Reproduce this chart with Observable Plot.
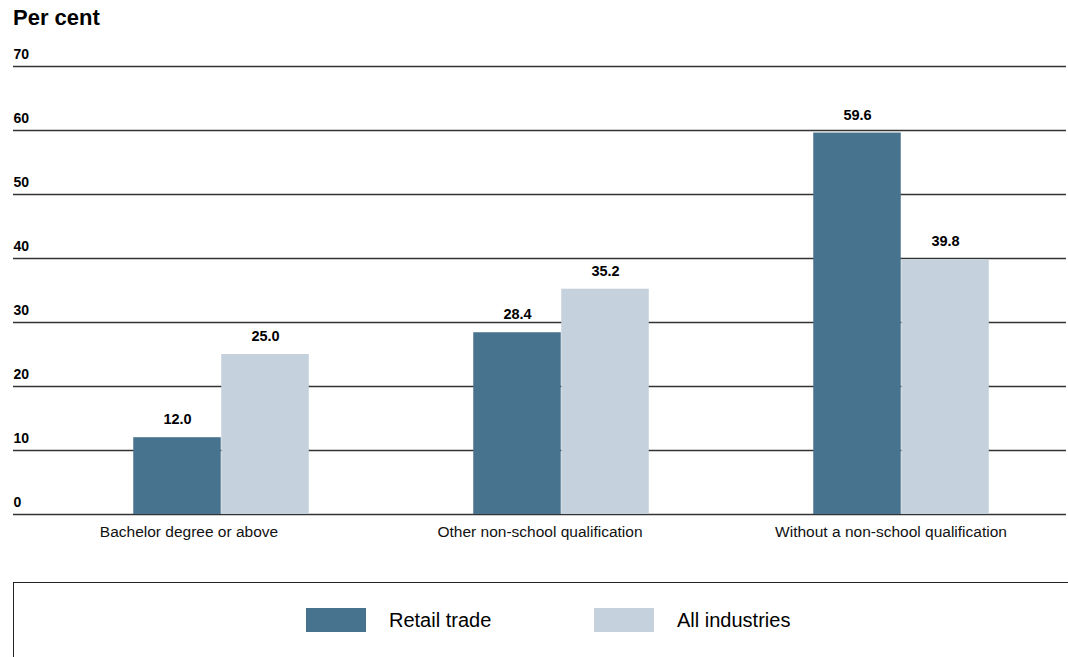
<!DOCTYPE html>
<html>
<head>
<meta charset="utf-8">
<script src="https://cdn.jsdelivr.net/npm/d3@7"></script>
<script src="https://cdn.jsdelivr.net/npm/@observablehq/plot@0.6"></script>
<style>
  html, body { margin: 0; padding: 0; background: #fff; }
  body { width: 1068px; height: 657px; overflow: hidden; font-family: "Liberation Sans", Arial, Helvetica, sans-serif; color: #000; }
  #title { height: 36px; line-height: 36px; padding-left: 13px; font-weight: bold; font-size: 22px; box-sizing: border-box; }
  #chart { position: relative; width: 1068px; height: 518px; }
  #chart svg { position: absolute; left: 0; top: 0; }
  #legend { position: absolute; left: 13px; top: 582px; width: 1060px; height: 100px; border-top: 1.5px solid #222; border-left: 1.5px solid #222; box-sizing: border-box; }
  .item { position: absolute; top: 25px; display: flex; align-items: center; font-size: 20px; }
  .sw { width: 60px; height: 24px; margin-right: 23px; }
</style>
</head>
<body>
<div id="title">Per cent</div>
<div id="chart"></div>
<div id="legend"></div>
<script>
const categories = ["Bachelor degree or above", "Other non-school qualification", "Without a non-school qualification"];
const seriesNames = ["Retail trade", "All industries"];
const retailValues = [12.0, 28.4, 59.6];
const allIndustriesValues = [25.0, 35.2, 39.8];
const yTicks = [0, 10, 20, 30, 40, 50, 60, 70];
const colors = ["#47738f", "#c5d1dc"];

const retailData = categories.map((c, i) => ({category: c, series: seriesNames[0], value: retailValues[i]}));
const allData = categories.map((c, i) => ({category: c, series: seriesNames[1], value: allIndustriesValues[i]}));

const common = {
  width: 1068,
  height: 518,
  marginTop: 30,
  marginBottom: 40,
  marginLeft: 13,
  marginRight: 2,
  style: {fontFamily: "'Liberation Sans', Arial, Helvetica, sans-serif", fontSize: "14px", color: "#000", background: "transparent"}
};

// Main chart: gridlines, y labels, bars, value labels
const chart = Plot.plot({
  ...common,
  x: {type: "band", domain: categories, range: [50, 1071], padding: 0, axis: null},
  y: {domain: [0, 70], axis: null},
  color: {domain: seriesNames, range: colors},
  marks: [
    Plot.ruleY(yTicks, {stroke: "#333", strokeWidth: 1.4}),
    Plot.text(yTicks, {y: d => d, text: d => String(d), frameAnchor: "left", textAnchor: "start", dy: -11.5, fontWeight: "bold", fontSize: 14, fill: "#000"}),
    Plot.barY(retailData, {x: "category", y: "value", fill: "series", insetLeft: 82.25, insetRight: 170.25}),
    Plot.barY(allData, {x: "category", y: "value", fill: "series", insetLeft: 170.25, insetRight: 82.25}),
    Plot.text(retailData, {x: "category", y: "value", text: d => d.value.toFixed(1), dx: -44, dy: -18, fontWeight: "bold", fontSize: 14.5, fill: "#000"}),
    Plot.text(allData, {x: "category", y: "value", text: d => d.value.toFixed(1), dx: 44, dy: -18, fontWeight: "bold", fontSize: 14.5, fill: "#000"})
  ]
});
chart.style.background = "#fff";

// Category axis: evenly spaced across the full frame
const axis = Plot.plot({
  ...common,
  x: {type: "band", domain: categories, padding: 0, label: null},
  y: {domain: [0, 70], axis: null},
  marks: [
    Plot.axisX({anchor: "bottom", tickSize: 0, tickPadding: 11, fontSize: 15.5, label: null, fill: "#111"})
  ]
});

document.getElementById("chart").appendChild(chart);
document.getElementById("chart").appendChild(axis);

const legend = document.getElementById("legend");
const lefts = [292, 580];
seriesNames.forEach((s, i) => {
  const item = document.createElement("div");
  item.className = "item";
  item.style.left = lefts[i] + "px";
  const sw = document.createElement("div");
  sw.className = "sw";
  sw.style.background = colors[i];
  const label = document.createElement("span");
  label.textContent = s;
  item.appendChild(sw);
  item.appendChild(label);
  legend.appendChild(item);
});
</script>
</body>
</html>
